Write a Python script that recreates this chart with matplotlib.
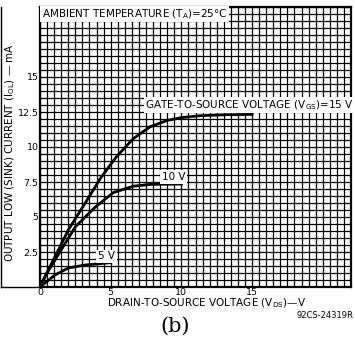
import numpy as np
import matplotlib
matplotlib.use("Agg")
import matplotlib.pyplot as plt
from matplotlib.lines import Line2D

# curves (V_DS in V, I_OL in mA)
vds_15 = [0, 0.5, 1.06, 2.0, 3.2, 4.3, 5.4, 6.6, 7.8, 9.0, 10.0, 11.35, 13.0, 15.0]
iol_15 = [0, 1.05, 2.16, 4.07, 6.0, 7.8, 9.3, 10.6, 11.45, 11.9, 12.1, 12.24, 12.3, 12.33]
vds_10 = [0, 0.5, 1.06, 2.5, 3.9, 5.2, 6.6, 7.8, 10.0]
iol_10 = [0, 1.0, 1.93, 4.3, 5.7, 6.75, 7.2, 7.33, 7.35]
vds_5 = [0, 1.06, 2.0, 3.2, 5.0]
iol_5 = [0, 0.86, 1.36, 1.57, 1.74]

x_ticks = [0, 5, 10, 15]
y_ticks = [2.5, 5, 7.5, 10, 12.5, 15]
y_ticklabels = ["2.5", "5", "7.5", "10", "12.5", "15"]

plt.rcParams['font.family'] = ['DejaVu Sans']

fig = plt.figure(figsize=(3.55, 3.40), dpi=100)
ax = fig.add_axes([40/355, 53/340, 311/355, 280/340])

ax.set_xlim(0, 22)
ax.set_ylim(0, 20)
ax.set_xticks(np.arange(0, 22.01, 0.5), minor=True)
ax.set_yticks(np.arange(0, 20.01, 0.5), minor=True)
ax.set_xticks(x_ticks)
ax.set_yticks(y_ticks)
ax.set_yticklabels(y_ticklabels)
ax.grid(True, which='both', color='black', linewidth=0.9)
ax.tick_params(which='both', length=0)
ax.tick_params(axis='both', labelsize=6.8, pad=1)
for s in ax.spines.values():
    s.set_linewidth(1.6)

ax.plot(vds_15, iol_15, color='black', lw=2.0, zorder=5)
ax.plot(vds_10, iol_10, color='black', lw=2.0, zorder=5)
ax.plot(vds_5, iol_5, color='black', lw=2.0, zorder=5)

fs = 7.5
box = dict(facecolor='white', edgecolor='none', pad=1.2)
ax.text(0.15, 19.5, "AMBIENT TEMPERATURE (T$_\\mathregular{A}$)=25°C", fontsize=fs,
        ha='left', va='center', bbox=box, zorder=6)
ax.text(7.45, 13.0, "GATE-TO-SOURCE VOLTAGE (V$_\\mathregular{GS}$)=15 V", fontsize=fs,
        ha='left', va='center', bbox=box, zorder=6)
ax.text(8.6, 7.85, "10 V", fontsize=fs, ha='left', va='center', bbox=box, zorder=6)
ax.text(4.1, 2.2, "5 V", fontsize=fs, ha='left', va='center', bbox=box, zorder=6)

ax.set_ylabel("OUTPUT LOW (SINK) CURRENT (I$_\\mathregular{OL}$) — mA", fontsize=fs)
ax.yaxis.set_label_coords(-0.074, 0.48)
fig.text(207/355, 1 - 303/340, "DRAIN-TO-SOURCE VOLTAGE (V$_\\mathregular{DS}$)—V",
         fontsize=fs, ha='center', va='center')
fig.text(175/355, 1 - 326/340, "(b)", fontsize=15, family='DejaVu Serif',
         ha='center', va='center')
fig.text(353/355, 1 - 316/340, "92CS-24319R", fontsize=6, ha='right', va='center')

# left bracket of the frame
fig.add_artist(Line2D([1.5/355, 1.5/355], [53/340, 333/340], color='black', lw=1.0))
fig.add_artist(Line2D([1.5/355, 40/355], [53/340, 53/340], color='black', lw=1.0))

fig.savefig("out.png", dpi=100)
